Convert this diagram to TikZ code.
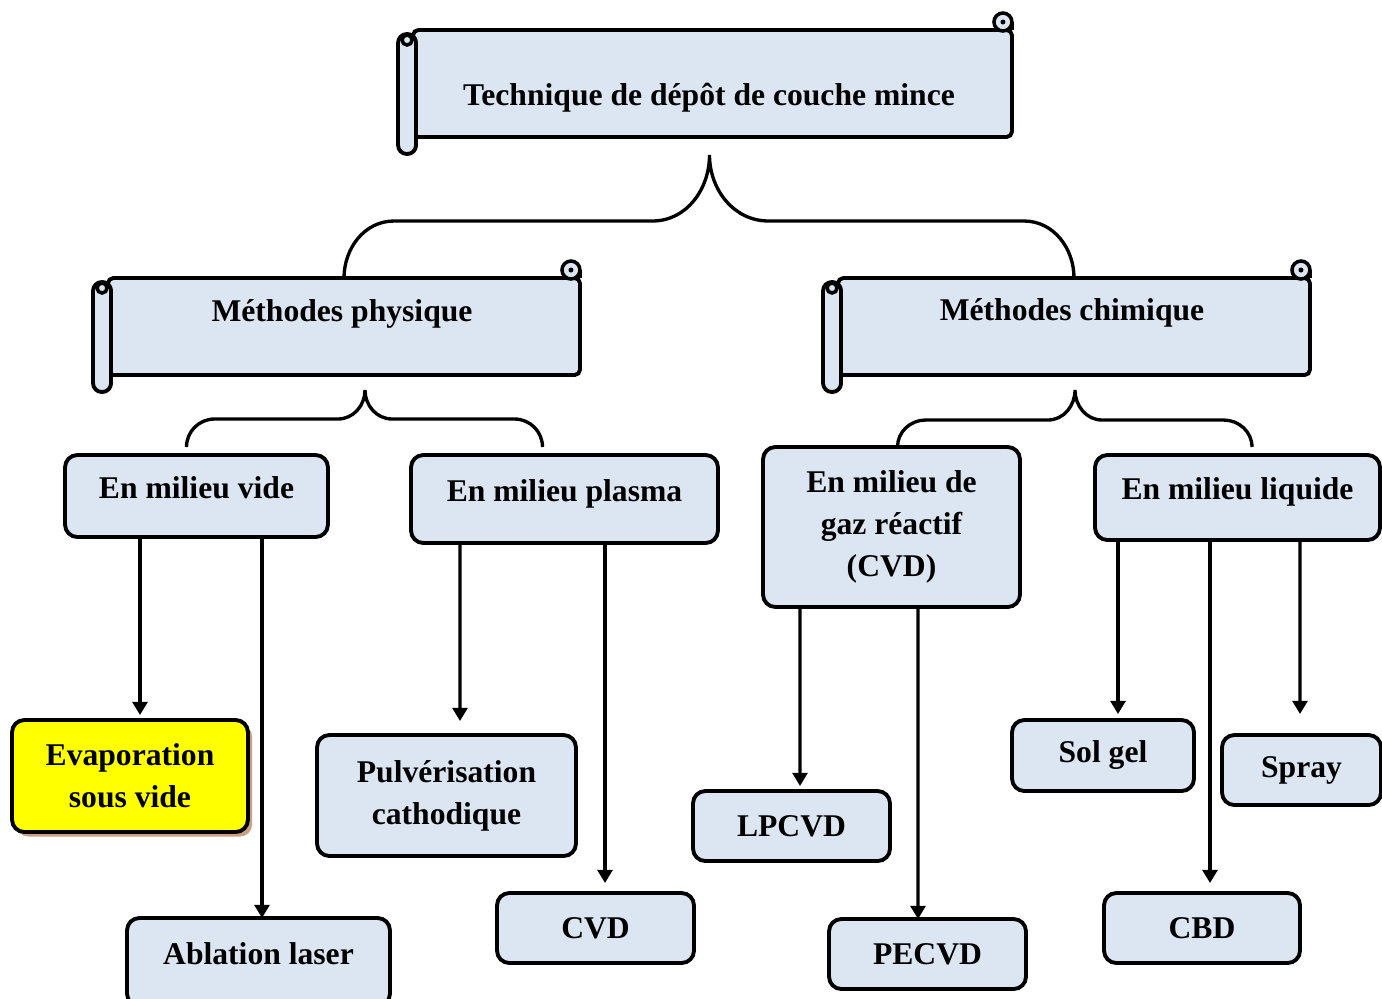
\documentclass[tikz,border=0pt]{standalone}
\usepackage{fontspec}
\setmainfont{Liberation Serif}
\usetikzlibrary{arrows.meta,calc,shadows}
\definecolor{tdblue}{HTML}{DCE6F2}
\definecolor{tdyellow}{HTML}{FFFF00}
\definecolor{tdtan}{HTML}{C9A084}
\tikzset{
  box/.style={draw=black,fill=tdblue,line width=2.2pt,rounded corners=7pt,inner sep=0pt,outer sep=0pt,
    align=center,font=\bfseries\fontsize{18}{24}\selectfont},
  lift/.style={box,text depth=0.35cm},
  hot/.style={box,fill=tdyellow,drop shadow={shadow xshift=2.4pt,shadow yshift=-2.6pt,fill=tdtan,opacity=1}},
  band/.style={draw=black,fill=tdblue,line width=2.2pt,rounded corners=3pt,inner sep=0pt,outer sep=0pt},
  roll/.style={draw=black,fill=tdblue,line width=2.2pt,rounded corners=5pt},
  curl/.style={draw=black,fill=tdblue,line width=2pt},
  title/.style={font=\bfseries\fontsize{18}{24}\selectfont},
  brace/.style={line width=1.9pt},
  arr/.style={-{Triangle[width=8.5pt,length=7.5pt]},line width=1.8pt},
}
\begin{document}
\begin{tikzpicture}[x=0.02cm,y=-0.02cm]
\useasboundingbox (0,0) rectangle (1382,998);
% scrolls
\node[band,minimum width=11.98cm,minimum height=2.14cm] (top) at (712.5,83.5) {};
\node[band,minimum width=9.44cm,minimum height=1.94cm] (phys) at (344,326.5) {};
\node[band,minimum width=9.44cm,minimum height=1.94cm] (chim) at (1074,326.5) {};
\foreach \s in {top,phys,chim}{
  \draw[roll] ($(\s.north west)+(-15,4)$) rectangle ($(\s.south west)+(3,17)$);
  \draw[curl] ($(\s.north west)+(-6,10)$) circle (0.1cm);
  \draw[curl] ($(\s.north east)+(-9,-8)$) circle (0.18cm);
  \draw[line width=2.2pt] (\s.north east) -- ++(0,-8);
  \fill ($(\s.north east)+(-9,-8)$) circle (0.05cm);
}
\node[title] (topT) at (709,98) {Technique de dépôt de couche mince};
\node[title] (physT) at (342,314) {Méthodes physique};
\node[title] (chimT) at (1072,313) {Méthodes chimique};
% boxes
\node[lift,minimum width=5.26cm,minimum height=1.64cm] (vide) at (196.5,496) {En milieu vide};
\node[lift,minimum width=6.14cm,minimum height=1.76cm] (plasma) at (564.5,499) {En milieu plasma};
\node[box,minimum width=5.14cm,minimum height=3.2cm] (gaz) at (891.5,527) {En milieu de\\gaz réactif\\(CVD)};
\node[lift,minimum width=5.7cm,minimum height=1.7cm] (liq) at (1237.5,497.5) {En milieu liquide};
\node[hot,minimum width=4.72cm,minimum height=2.24cm] (evap) at (130,776) {Evaporation\\sous vide};
\node[lift,minimum width=5.26cm,minimum height=1.76cm] (abl) at (258.5,962) {Ablation laser};
\node[box,minimum width=5.18cm,minimum height=2.42cm] (pulv) at (446.5,795.5) {Pulvérisation\\cathodique};
\node[box,minimum width=3.94cm,minimum height=1.4cm] (cvd) at (595.5,928) {CVD};
\node[box,minimum width=3.94cm,minimum height=1.4cm] (lpcvd) at (791.5,826) {LPCVD};
\node[box,minimum width=3.94cm,minimum height=1.4cm] (pecvd) at (927.5,954) {PECVD};
\node[box,minimum width=3.64cm,minimum height=1.42cm] (sol) at (1103,755.5) {Sol gel};
\node[box,minimum width=3.18cm,minimum height=1.4cm] (spray) at (1301.5,770) {Spray};
\node[box,minimum width=3.92cm,minimum height=1.4cm] (cbd) at (1202,928) {CBD};
% braces
\draw[brace] (phys.north) to[out=90,in=180] ++(50,-57) -- ($(top.south)+(-60,84)$)
  to[out=0,in=-90] ($(top.south)+(-3,18)$) to[out=-90,in=180] ++(59,66)
  -- ($(chim.north)+(-50,-57)$) to[out=0,in=90] (chim.north);
\draw[brace] ($(vide.north)+(-10,-8)$) to[out=90,in=180] ++(28,-28) -- ($(phys.south)+(-6,44)$)
  to[out=0,in=-90] ($(phys.south)+(21,15)$) to[out=-90,in=180] ++(27,29)
  -- ($(plasma.north)+(-50,-36)$) to[out=0,in=90] ($(plasma.north)+(-22,-8)$);
\draw[brace] ($(gaz.north)+(6,0)$) to[out=90,in=180] ++(28,-27) -- ($(chim.south)+(-26,45)$)
  to[out=0,in=-90] ($(chim.south)+(1,15)$) to[out=-90,in=180] ++(27,30)
  -- ($(liq.north)+(-14,-35)$) to[out=0,in=90] ($(liq.north)+(14.5,-8)$);
% arrows
\draw[arr] ($(vide.south)+(-56.5,0)$) -- ($(evap.north)+(10,-5)$);
\draw[arr] ($(vide.south)+(65.5,0)$) -- ($(abl.north)+(3.5,0)$);
\draw[arr] ($(plasma.south)+(-104.5,0)$) -- ($(pulv.north)+(13.5,-14)$);
\draw[arr] ($(plasma.south)+(40.5,0)$) -- ($(cvd.north)+(9.5,-10)$);
\draw[arr] ($(gaz.south)+(-91.5,0)$) -- ($(lpcvd.north)+(8.5,-5)$);
\draw[arr] ($(gaz.south)+(26.5,0)$) -- ($(pecvd.north)+(-9.5,0)$);
\draw[arr] ($(liq.south)+(-119.5,0)$) -- ($(sol.north)+(15,-6)$);
\draw[arr] ($(liq.south)+(-27.5,0)$) -- ($(cbd.north)+(8,-10)$);
\draw[arr] ($(liq.south)+(62.5,0)$) -- ($(spray.north)+(-1.5,-21)$);
\end{tikzpicture}
\end{document}
